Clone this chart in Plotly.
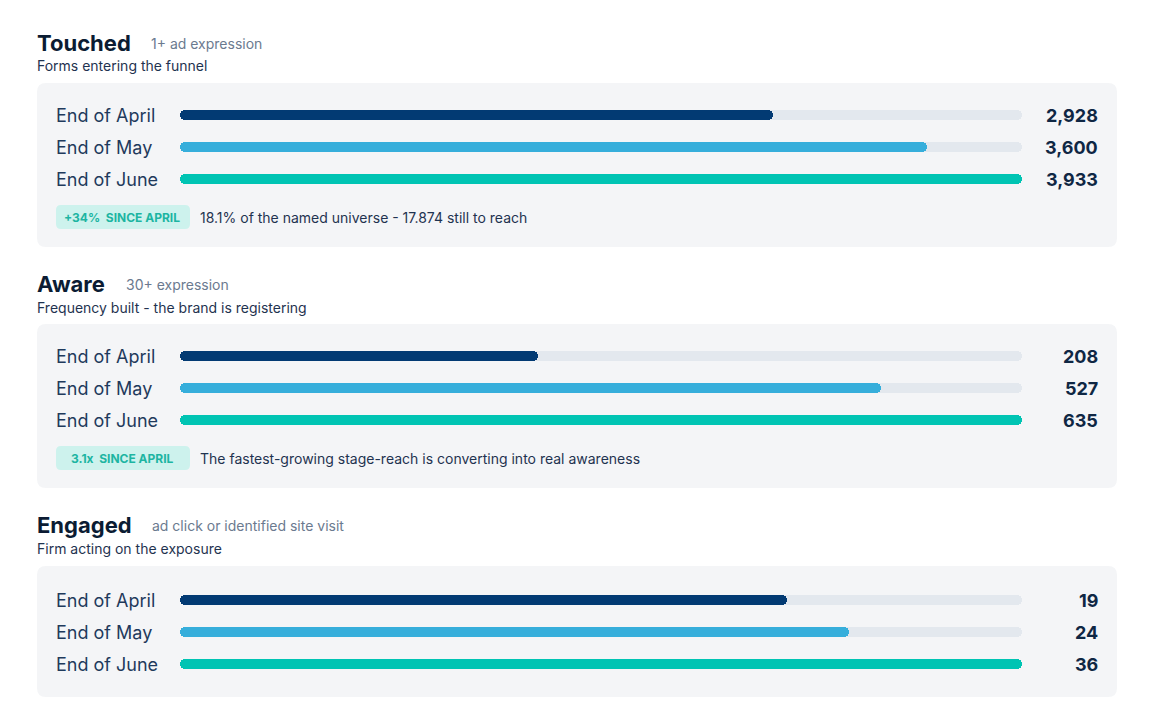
import plotly.graph_objects as go

# -----------------------------
# Data
# -----------------------------
periods = ["End of April", "End of May", "End of June"]

stages = ["Touched", "Aware", "Engaged"]
stage_notes = ["1+ ad expression", "30+ expression", "ad click or identified site visit"]
stage_subtitles = [
    "Forms entering the funnel",
    "Frequency built - the brand is registering",
    "Firm acting on the exposure",
]

touched_values = [2928, 3600, 3933]
aware_values = [208, 527, 635]
engaged_values = [19, 24, 36]

# bar fill (% of track)
touched_fill = [70.4, 88.7, 100]
aware_fill = [42.5, 83.3, 100]
engaged_fill = [72.1, 79.5, 100]

badges = ["+34%\u00a0 SINCE APRIL", "3.1x\u00a0 SINCE APRIL", None]
footnotes = [
    "18.1% of the named universe - 17.874 still to reach",
    "The fastest-growing stage-reach is converting into real awareness",
    None,
]

values = [touched_values, aware_values, engaged_values]
fills = [touched_fill, aware_fill, engaged_fill]

# -----------------------------
# Layout helpers (pixel -> paper)
# -----------------------------
W, H = 1154, 724
OFF = 8  # page body margin
PAD = 2  # annotation text inset
FONT = "Inter, Noto Sans, sans-serif"
period_colors = ["#023a73", "#36aedb", "#00c4b3"]
TRACK = "#e3e8ee"
PANEL = "#f4f5f7"


def px(x):
    return (x - OFF) / W


def py(y):
    return 1 - (y - OFF) / H


def round_rect(x0, y0, x1, y1, r):
    # rounded rectangle path in paper coords
    rx, ry = r / W, r / H
    a, b, c, d = px(x0), px(x1), py(y0), py(y1)
    return (f"M{a + rx},{c} L{b - rx},{c} Q{b},{c} {b},{c - ry} "
            f"L{b},{d + ry} Q{b},{d} {b - rx},{d} L{a + rx},{d} "
            f"Q{a},{d} {a},{d + ry} L{a},{c - ry} Q{a},{c} {a + rx},{c} Z")


def halves(fill, overlap=2):
    # split a 0..fill bar into two overlapping pieces so both ends get rounded
    mid = fill / 2
    left = dict(base=mid + overlap, x=-(mid + overlap))
    right = dict(base=mid - overlap, x=mid + overlap)
    return left, right


# section geometry: title y, first row y, panel top/bottom, note x
title_y = [43, 284, 525]
row0_y = [115, 356, 600]
panel_box = [(83, 247), (324, 488), (566, 697)]
note_x = [151, 126, 152]
ROW_GAP = 32
BAR_X0, BAR_X1 = 180, 1022

fig = go.Figure()
shapes = []
annotations = []

for i, stage in enumerate(stages):
    ax = "" if i == 0 else str(i + 1)
    top, bottom = panel_box[i]
    shapes.append(dict(type="path", xref="paper", yref="paper", layer="below",
                       path=round_rect(37, top, 1117, bottom, 9),
                       fillcolor=PANEL, line=dict(width=0)))

    # track (full length), then the filled bar on top
    track_parts = [halves(100) for _ in periods]
    fill_parts = [halves(f) for f in fills[i]]
    for side in (0, 1):
        fig.add_trace(go.Bar(
            y=periods, x=[p[side]["x"] for p in track_parts],
            base=[p[side]["base"] for p in track_parts], orientation="h",
            marker=dict(color=TRACK, line=dict(width=0)), width=0.34,
            xaxis="x" + ax, yaxis="y" + ax, hoverinfo="skip", showlegend=False,
        ))
    for side in (0, 1):
        fig.add_trace(go.Bar(
            y=periods, x=[p[side]["x"] for p in fill_parts],
            base=[p[side]["base"] for p in fill_parts], orientation="h",
            marker=dict(color=period_colors, line=dict(width=0)), width=0.34,
            xaxis="x" + ax, yaxis="y" + ax,
            customdata=values[i], hovertemplate="%{y}: %{customdata:,}<extra></extra>",
            showlegend=False,
        ))

    y_top = row0_y[i] - ROW_GAP / 2
    y_bot = row0_y[i] + 2 * ROW_GAP + ROW_GAP / 2
    fig.update_layout({
        "xaxis" + ax: dict(domain=[px(BAR_X0), px(BAR_X1)], range=[0, 100],
                           visible=False, fixedrange=True, anchor="y" + ax),
        "yaxis" + ax: dict(domain=[py(y_bot), py(y_top)], range=[2.5, -0.5],
                           type="category", categoryarray=periods, visible=False,
                           fixedrange=True, anchor="x" + ax),
    })

    # headings
    annotations.append(dict(text=f"<b>{stage}</b>", x=px(37 - PAD), y=py(title_y[i]),
                            font=dict(size=22, color="#0b1c33")))
    annotations.append(dict(text=stage_notes[i], x=px(note_x[i] - PAD), y=py(title_y[i]),
                            font=dict(size=14, color="#6b7a8f")))
    annotations.append(dict(text=stage_subtitles[i], x=px(37 - PAD), y=py(title_y[i] + 23),
                            font=dict(size=14, color="#1f3350")))

    # row labels and values
    for k, p in enumerate(periods):
        annotations.append(dict(text=p, x=px(56 - PAD), y=p, yref="y" + ax,
                                font=dict(size=18, color="#1f3a5c")))
        annotations.append(dict(text=f"<b>{values[i][k]:,}</b>", x=px(1098 + PAD), y=p,
                                yref="y" + ax, xanchor="right",
                                font=dict(size=18, color="#0f2744")))

    # badge + footnote
    if badges[i]:
        by = row0_y[i] + 2 * ROW_GAP + 38
        shapes.append(dict(type="path", xref="paper", yref="paper", layer="below",
                           path=round_rect(56, by - 12, 190, by + 12, 5),
                           fillcolor="#cdf2ed", line=dict(width=0)))
        annotations.append(dict(text=f"<b>{badges[i]}</b>", x=px(122), y=py(by),
                                xanchor="center", font=dict(size=12, color="#1db5a2")))
        annotations.append(dict(text=footnotes[i], x=px(200 - PAD), y=py(by),
                                font=dict(size=14, color="#1f3350")))

for a in annotations:
    a.setdefault("xref", "paper")
    a.setdefault("yref", "paper")
    a.setdefault("xanchor", "left")
    a.setdefault("yanchor", "middle")
    a["showarrow"] = False

fig.update_layout(
    width=W, height=H,
    margin=dict(l=0, r=0, t=0, b=0),
    paper_bgcolor="white", plot_bgcolor="rgba(0,0,0,0)",
    barmode="overlay", barcornerradius="50%", bargap=0,
    font=dict(family=FONT),
    shapes=shapes, annotations=annotations,
    showlegend=False,
)

fig.write_html("out.html")
